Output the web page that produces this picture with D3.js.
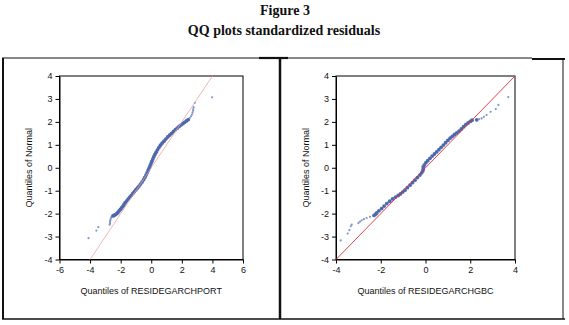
<!DOCTYPE html>
<html>
<head>
<meta charset="utf-8">
<script src="https://cdn.jsdelivr.net/npm/d3@7"></script>
<style>
  body { margin: 0; background: #fff; }
</style>
</head>
<body>
<div id="chart"></div>
<script>
// left panel: quantiles of RESIDEGARCHPORT (x) vs quantiles of normal (y)
var portX = [-4.10,-3.59,-3.46,-2.72,-2.70,-2.69,-2.68,-2.66,-2.63,-2.58,-2.50,-2.42,-2.34,
  -2.26,-2.18,-2.10,-2.02,-1.94,-1.86,-1.78,-1.70,-1.60,-1.50,-1.40,-1.30,-1.20,-1.10,-1.00,
  -0.90,-0.80,-0.70,-0.60,-0.50,-0.42,-0.34,-0.27,-0.20,-0.14,-0.08,-0.02,0.04,0.10,0.17,0.24,
  0.32,0.41,0.50,0.60,0.71,0.83,0.95,1.08,1.20,1.33,1.46,1.58,1.70,1.82,1.94,2.06,2.18,2.30,
  2.42,2.52,2.60,2.66,2.70,2.73,2.75,2.77,2.85,3.98];
var portY = [-3.07,-2.74,-2.59,-2.48,-2.42,-2.36,-2.30,-2.24,-2.18,-2.13,-2.10,-2.07,-2.04,
  -2.00,-1.95,-1.88,-1.82,-1.75,-1.68,-1.60,-1.52,-1.44,-1.36,-1.28,-1.20,-1.12,-1.04,-0.96,
  -0.88,-0.80,-0.71,-0.62,-0.52,-0.42,-0.32,-0.22,-0.12,-0.02,0.08,0.18,0.28,0.38,0.48,0.58,
  0.68,0.78,0.88,0.98,1.07,1.16,1.25,1.34,1.42,1.50,1.58,1.66,1.73,1.80,1.86,1.92,1.98,2.04,
  2.10,2.17,2.24,2.32,2.40,2.48,2.56,2.64,2.83,3.07];

// right panel: quantiles of RESIDEGARCHGBC (x) vs quantiles of normal (y)
var gbcX = [-3.79,-3.48,-3.40,-3.34,-3.30,-3.00,-2.93,-2.85,-2.75,-2.63,-2.48,-2.30,-2.22,
  -2.18,-2.08,-1.96,-1.85,-1.73,-1.60,-1.47,-1.34,-1.22,-1.12,-1.02,-0.92,-0.81,-0.69,-0.58,
  -0.47,-0.36,-0.25,-0.17,-0.12,-0.10,-0.10,-0.05,0.02,0.10,0.20,0.30,0.40,0.50,0.60,0.70,
  0.80,0.90,1.00,1.10,1.20,1.30,1.40,1.50,1.60,1.70,1.80,1.90,2.00,2.08,2.29,2.40,2.51,2.61,
  2.73,2.91,3.14,3.26,3.70];
var gbcY = [-3.17,-2.87,-2.72,-2.55,-2.48,-2.41,-2.35,-2.29,-2.24,-2.19,-2.14,-2.08,-2.02,
  -1.97,-1.88,-1.78,-1.67,-1.56,-1.46,-1.36,-1.28,-1.21,-1.14,-1.06,-0.98,-0.87,-0.76,-0.65,
  -0.54,-0.43,-0.32,-0.22,-0.13,-0.05,0.04,0.12,0.22,0.31,0.41,0.51,0.60,0.69,0.79,0.89,
  0.99,1.09,1.19,1.29,1.37,1.45,1.52,1.60,1.69,1.79,1.88,1.95,2.02,2.07,2.09,2.12,2.15,2.22,
  2.30,2.44,2.56,2.74,3.08];

var yTicks = [-4,-3,-2,-1,0,1,2,3,4];
var portXTicks = [-6,-4,-2,0,2,4,6];
var gbcXTicks = [-4,-2,0,2,4];

var width = 569, height = 325;
var svg = d3.select("#chart").append("svg").attr("width", width).attr("height", height);

//标题
svg.append("text").text("Figure 3").attr("x", 285).attr("y", 15)
  .attr("text-anchor", "middle").attr("font-family", "Liberation Serif, serif")
  .attr("font-weight", "bold").attr("font-size", 14).attr("fill", "#111");
svg.append("text").text("QQ plots standardized residuals").attr("x", 284).attr("y", 35)
  .attr("text-anchor", "middle").attr("font-family", "Liberation Serif, serif")
  .attr("font-weight", "bold").attr("font-size", 14).attr("fill", "#111");

//外框
var frame = [
  [2, 58, 259, 58, 1], [259, 58, 288, 58, 2.2], [288, 58, 532, 58, 1], [532, 59, 565, 59, 2],
  [3, 58, 3, 319, 2], [280, 58, 280, 319, 2.5], [563, 59, 563, 319, 1], [2, 319, 565, 319, 1.5]
];
svg.selectAll(".frame").data(frame).enter().append("line")
  .attr("x1", function(d){return d[0]}).attr("y1", function(d){return d[1]})
  .attr("x2", function(d){return d[2]}).attr("y2", function(d){return d[3]})
  .attr("stroke", "#111").attr("stroke-width", function(d){return d[4]});

function plainNum(d) { return String(d); }

function drawPanel(opt) {
  var g = svg.append("g");
  var xScale = d3.scaleLinear().domain(opt.xDomain).range([opt.left, opt.right]);
  var yScale = d3.scaleLinear().domain([-4, 4]).range([opt.bottom, opt.top]);

  g.append("g").attr("transform", "translate(0," + opt.bottom + ")")
    .call(d3.axisBottom(xScale).tickValues(opt.xTicks).tickFormat(plainNum).tickSize(4).tickSizeOuter(0))
    .call(styleAxis);
  g.append("g").attr("transform", "translate(" + opt.left + ",0)")
    .call(d3.axisLeft(yScale).tickValues(yTicks).tickFormat(plainNum).tickSize(4).tickSizeOuter(0))
    .call(styleAxis);

  //框
  g.append("rect").attr("x", opt.left).attr("y", opt.top)
    .attr("width", opt.right - opt.left).attr("height", opt.bottom - opt.top)
    .attr("fill", "none").attr("stroke", "#000").attr("stroke-width", 1);

  //点
  var pts = opt.xs.map(function(d, i){ return [d, opt.ys[i]]; });
  g.selectAll(".pt").data(pts).enter().append("circle")
    .attr("cx", function(d){return xScale(d[0])}).attr("cy", function(d){return yScale(d[1])})
    .attr("r", function(d){return Math.abs(d[1]) > 2.1 ? 1.1 : 1.9})
    .attr("fill", function(d){return Math.abs(d[1]) > 2.1 ? "#7c97c8" : "#4d68ad"})
    .attr("stroke", "none");

  //参考线 y = x
  var lo = Math.max(opt.xDomain[0], -4), hi = Math.min(opt.xDomain[1], 4);
  g.append("line").attr("x1", xScale(lo)).attr("y1", yScale(lo))
    .attr("x2", xScale(hi)).attr("y2", yScale(hi))
    .attr("stroke", opt.lineColor).attr("stroke-width", opt.lineWidth);

  g.append("text").text(opt.xTitle).attr("x", (opt.left + opt.right) / 2).attr("y", opt.bottom + 34)
    .attr("text-anchor", "middle").attr("font-family", "Liberation Sans, Arial, sans-serif")
    .attr("font-size", 9).attr("fill", "#111");
  g.append("text").text("Quantiles of Normal")
    .attr("transform", "translate(" + opt.yTitleX + "," + (opt.top + opt.bottom) / 2 + ") rotate(-90)")
    .attr("text-anchor", "middle").attr("font-family", "Liberation Sans, Arial, sans-serif")
    .attr("font-size", 9).attr("fill", "#111");
}

function styleAxis(a) {
  a.select(".domain").attr("stroke", "#000");
  a.selectAll(".tick line").attr("stroke", "#000");
  a.selectAll(".tick text").attr("font-family", "Liberation Sans, Arial, sans-serif")
    .attr("font-size", 9).attr("fill", "#111");
}

drawPanel({ left: 59.5, right: 243, top: 76, bottom: 259.5, xDomain: [-6, 6], xTicks: portXTicks,
  xs: portX, ys: portY, lineColor: "#eaa3a3", lineWidth: 0.8,
  xTitle: "Quantiles of RESIDEGARCHPORT", yTitleX: 32 });
drawPanel({ left: 336, right: 515, top: 76, bottom: 259.5, xDomain: [-4, 4], xTicks: gbcXTicks,
  xs: gbcX, ys: gbcY, lineColor: "#d4303a", lineWidth: 0.9,
  xTitle: "Quantiles of RESIDEGARCHGBC", yTitleX: 309 });
</script>
</body>
</html>
